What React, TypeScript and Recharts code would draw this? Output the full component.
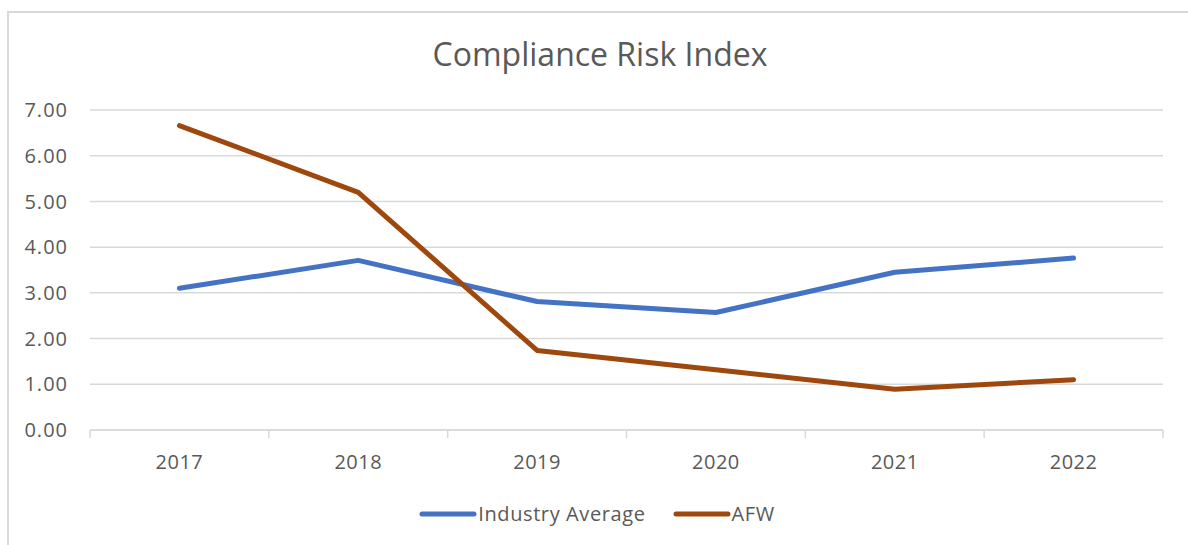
import { CartesianGrid, Legend, Line, LineChart, XAxis, YAxis } from "recharts"

const years = ["2017", "2018", "2019", "2020", "2021", "2022"]
const industryAverage = [3.1, 3.71, 2.81, 2.57, 3.45, 3.76]
const afw = [6.66, 5.2, 1.74, 1.32, 0.89, 1.1]
const yTicks = [0, 1, 2, 3, 4, 5, 6, 7]

const series = [
  { key: "industry", name: "Industry Average", color: "#4472C4" },
  { key: "afw", name: "AFW", color: "#9E480E" },
]

const data = years.map((year, i) => ({
  year,
  industry: industryAverage[i],
  afw: afw[i],
}))

const FONT = "'Open Sans', 'Noto Sans', sans-serif"
const TEXT = "#595959"
const GRID = "#d9d9d9"

const WIDTH = 1188
const HEIGHT = 545
const PLOT_LEFT = 90
const PLOT_RIGHT = 1163
const BAND = (PLOT_RIGHT - PLOT_LEFT) / years.length

function YearTick(props: any) {
  const { x, y, payload, index } = props
  return (
    <g>
      <line x1={x - BAND / 2} x2={x - BAND / 2} y1={y} y2={y + 8} stroke={GRID} strokeWidth={1.5} />
      {index === years.length - 1 && (
        <line x1={x + BAND / 2} x2={x + BAND / 2} y1={y} y2={y + 8} stroke={GRID} strokeWidth={1.5} />
      )}
      <text x={x} y={y + 39} textAnchor="middle" fill={TEXT} fontSize={20} letterSpacing={0.5} fontFamily={FONT}>
        {payload.value}
      </text>
    </g>
  )
}

function LegendContent() {
  return (
    <div
      style={{
        display: "flex",
        justifyContent: "center",
        alignItems: "center",
        fontFamily: FONT,
        fontSize: 20,
        letterSpacing: 0.6,
        color: TEXT,
        paddingLeft: 6,
      }}
    >
      {series.map((s, i) => (
        <div key={s.key} style={{ display: "flex", alignItems: "center", marginLeft: i ? 27 : 0 }}>
          <svg width={58} height={10} style={{ marginRight: 1 }}>
            <line x1={3} x2={55} y1={5} y2={5} stroke={s.color} strokeWidth={5} strokeLinecap="round" />
          </svg>
          <span>{s.name}</span>
        </div>
      ))}
    </div>
  )
}

export default function App() {
  return (
    <div style={{ position: "absolute", left: 0, top: 0, width: WIDTH, height: HEIGHT, overflow: "hidden" }}>
      <div
        style={{
          position: "absolute",
          left: 7,
          top: 11,
          width: WIDTH,
          height: HEIGHT,
          borderTop: `2px solid ${GRID}`,
          borderLeft: `2px solid ${GRID}`,
        }}
      />
      <div
        style={{
          position: "absolute",
          left: 0,
          width: WIDTH,
          top: 32,
          textAlign: "center",
          fontFamily: FONT,
          fontSize: 32,
          color: TEXT,
          paddingLeft: 12,
          boxSizing: "border-box",
        }}
      >
        Compliance Risk Index
      </div>
      <div style={{ position: "absolute", left: 0, top: 0 }}>
        <LineChart
          width={WIDTH}
          height={HEIGHT}
          data={data}
          margin={{ top: 110, right: WIDTH - PLOT_RIGHT, bottom: 47, left: 10 }}
        >
          <CartesianGrid vertical={false} stroke={GRID} strokeWidth={1.5} />
          <XAxis
            dataKey="year"
            height={40}
            padding={{ left: BAND / 2, right: BAND / 2 }}
            axisLine={{ stroke: GRID, strokeWidth: 1.5 }}
            tickLine={false}
            tickSize={0}
            tickMargin={0}
            tick={<YearTick />}
            interval={0}
          />
          <YAxis
            width={80}
            domain={[0, 7]}
            ticks={yTicks}
            axisLine={false}
            tickLine={false}
            tickSize={0}
            tickMargin={22}
            tickFormatter={(v: number) => v.toFixed(2)}
            tick={{ fill: TEXT, fontSize: 20, fontFamily: FONT, letterSpacing: 1 }}
          />
          <Legend
            content={<LegendContent />}
            wrapperStyle={{ position: "absolute", left: 0, top: 500, width: WIDTH, height: 28 }}
          />
          {series.map((s) => (
            <Line
              key={s.key}
              type="linear"
              dataKey={s.key}
              name={s.name}
              stroke={s.color}
              strokeWidth={5}
              strokeLinecap="round"
              strokeLinejoin="round"
              dot={false}
              activeDot={false}
              isAnimationActive={false}
            />
          ))}
        </LineChart>
      </div>
    </div>
  )
}
